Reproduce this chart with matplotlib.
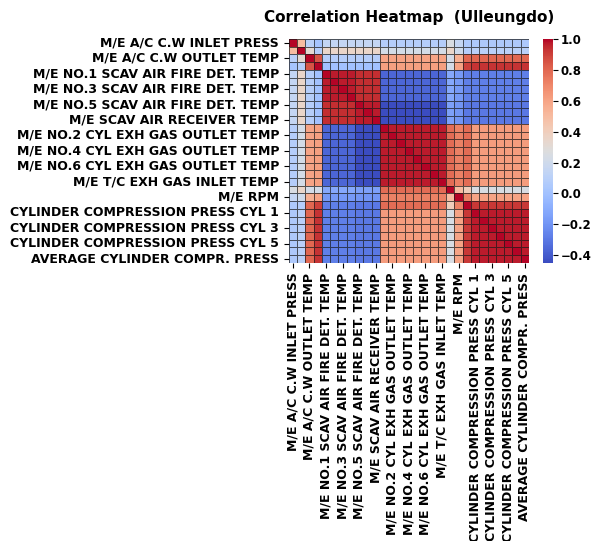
import numpy as np
import pandas as pd
import matplotlib
matplotlib.use("Agg")
import matplotlib.pyplot as plt
import seaborn as sns

## variable names (every other one is shown on the axes)
names = [
    "M/E A/C C.W INLET PRESS",
    "M/E A/C C.W INLET TEMP",
    "M/E A/C C.W OUTLET TEMP",
    "M/E SCAV AIR PRESS",
    "M/E NO.1 SCAV AIR FIRE DET. TEMP",
    "M/E NO.2 SCAV AIR FIRE DET. TEMP",
    "M/E NO.3 SCAV AIR FIRE DET. TEMP",
    "M/E NO.4 SCAV AIR FIRE DET. TEMP",
    "M/E NO.5 SCAV AIR FIRE DET. TEMP",
    "M/E NO.6 SCAV AIR FIRE DET. TEMP",
    "M/E SCAV AIR RECEIVER TEMP",
    "M/E NO.1 CYL EXH GAS OUTLET TEMP",
    "M/E NO.2 CYL EXH GAS OUTLET TEMP",
    "M/E NO.3 CYL EXH GAS OUTLET TEMP",
    "M/E NO.4 CYL EXH GAS OUTLET TEMP",
    "M/E NO.5 CYL EXH GAS OUTLET TEMP",
    "M/E NO.6 CYL EXH GAS OUTLET TEMP",
    "M/E EXH GAS RECEIVER TEMP",
    "M/E T/C EXH GAS INLET TEMP",
    "M/E T/C EXH GAS OUTLET TEMP",
    "M/E RPM",
    "M/E FUEL RACK POSITION",
    "CYLINDER COMPRESSION PRESS CYL 1",
    "CYLINDER COMPRESSION PRESS CYL 2",
    "CYLINDER COMPRESSION PRESS CYL 3",
    "CYLINDER COMPRESSION PRESS CYL 4",
    "CYLINDER COMPRESSION PRESS CYL 5",
    "CYLINDER COMPRESSION PRESS CYL 6",
    "AVERAGE CYLINDER COMPR. PRESS",
]

## variable groups (index into names)
members = {
    "P0": [0], "T1": [1], "T2": [2], "P3": [3],
    "Ca": [4, 5, 6, 7], "Cb": [8, 9, 10],
    "D": [11, 12, 13, 14, 15, 16, 17, 18],
    "X19": [19], "RPM": [20], "X21": [21],
    "F": [22, 23, 24, 25, 26, 27, 28],
}

## correlation between groups (upper triangle)
block = {
    ("P0", "T1"): 0.50, ("P0", "T2"): 0.10, ("P0", "P3"): 0.02, ("P0", "Ca"): 0.15,
    ("P0", "Cb"): 0.15, ("P0", "D"): 0.08, ("P0", "X19"): 0.25, ("P0", "RPM"): 0.15,
    ("P0", "X21"): 0.05, ("P0", "F"): 0.05,
    ("T1", "T2"): 0.32, ("T1", "P3"): 0.08, ("T1", "Ca"): 0.35, ("T1", "Cb"): 0.35,
    ("T1", "D"): 0.22, ("T1", "X19"): 0.35, ("T1", "RPM"): 0.20, ("T1", "X21"): 0.08,
    ("T1", "F"): 0.10,
    ("T2", "P3"): 0.85, ("T2", "Ca"): 0.08, ("T2", "Cb"): 0.08, ("T2", "D"): 0.60,
    ("T2", "X19"): 0.22, ("T2", "RPM"): 0.55, ("T2", "X21"): 0.80, ("T2", "F"): 0.80,
    ("P3", "Ca"): 0.00, ("P3", "Cb"): 0.00, ("P3", "D"): 0.62, ("P3", "X19"): 0.22,
    ("P3", "RPM"): 0.60, ("P3", "X21"): 0.90, ("P3", "F"): 0.93,
    ("Ca", "Ca"): 0.97, ("Ca", "Cb"): 0.94, ("Ca", "D"): -0.36, ("Ca", "X19"): -0.12,
    ("Ca", "RPM"): -0.18, ("Ca", "X21"): -0.28, ("Ca", "F"): -0.28,
    ("Cb", "Cb"): 0.97, ("Cb", "D"): -0.45, ("Cb", "X19"): -0.15, ("Cb", "RPM"): -0.20,
    ("Cb", "X21"): -0.30, ("Cb", "F"): -0.30,
    ("D", "D"): 0.97, ("D", "X19"): 0.78, ("D", "RPM"): 0.72, ("D", "X21"): 0.78,
    ("D", "F"): 0.63,
    ("X19", "RPM"): 0.50, ("X19", "X21"): 0.40, ("X19", "F"): 0.25,
    ("RPM", "X21"): 0.72, ("RPM", "F"): 0.60,
    ("X21", "F"): 0.92,
    ("F", "F"): 0.97,
}

n = len(names)
corr = np.eye(n)
for (ga, gb), v in block.items():
    for i in members[ga]:
        for j in members[gb]:
            if i != j:
                corr[i, j] = v
                corr[j, i] = v
df = pd.DataFrame(corr, index=names, columns=names)

fig = plt.figure(figsize=(5.93, 5.41), dpi=100)
ax = fig.add_axes([0.487, 0.514, 0.405, 0.414])
cax = fig.add_axes([0.916, 0.514, 0.017, 0.414])

sns.heatmap(df, ax=ax, cbar_ax=cax, cmap="coolwarm", linewidths=0.6,
            linecolor=(0.1, 0.1, 0.1, 0.7), xticklabels=2, yticklabels=2)

ax.set_title("Correlation Heatmap  (Ulleungdo)", fontsize=11, fontweight="bold", pad=12)
for lab in ax.get_xticklabels():
    lab.set_fontweight("bold")
    lab.set_fontsize(9)
    lab.set_rotation(90)
for lab in ax.get_yticklabels():
    lab.set_fontweight("bold")
    lab.set_fontsize(9)
    lab.set_rotation(0)
cax.set_yticks([-0.4, -0.2, 0.0, 0.2, 0.4, 0.6, 0.8, 1.0])
cax.tick_params(labelsize=8.5, pad=2)
for lab in cax.get_yticklabels():
    lab.set_fontweight("bold")

fig.savefig("out.png", dpi=100)
